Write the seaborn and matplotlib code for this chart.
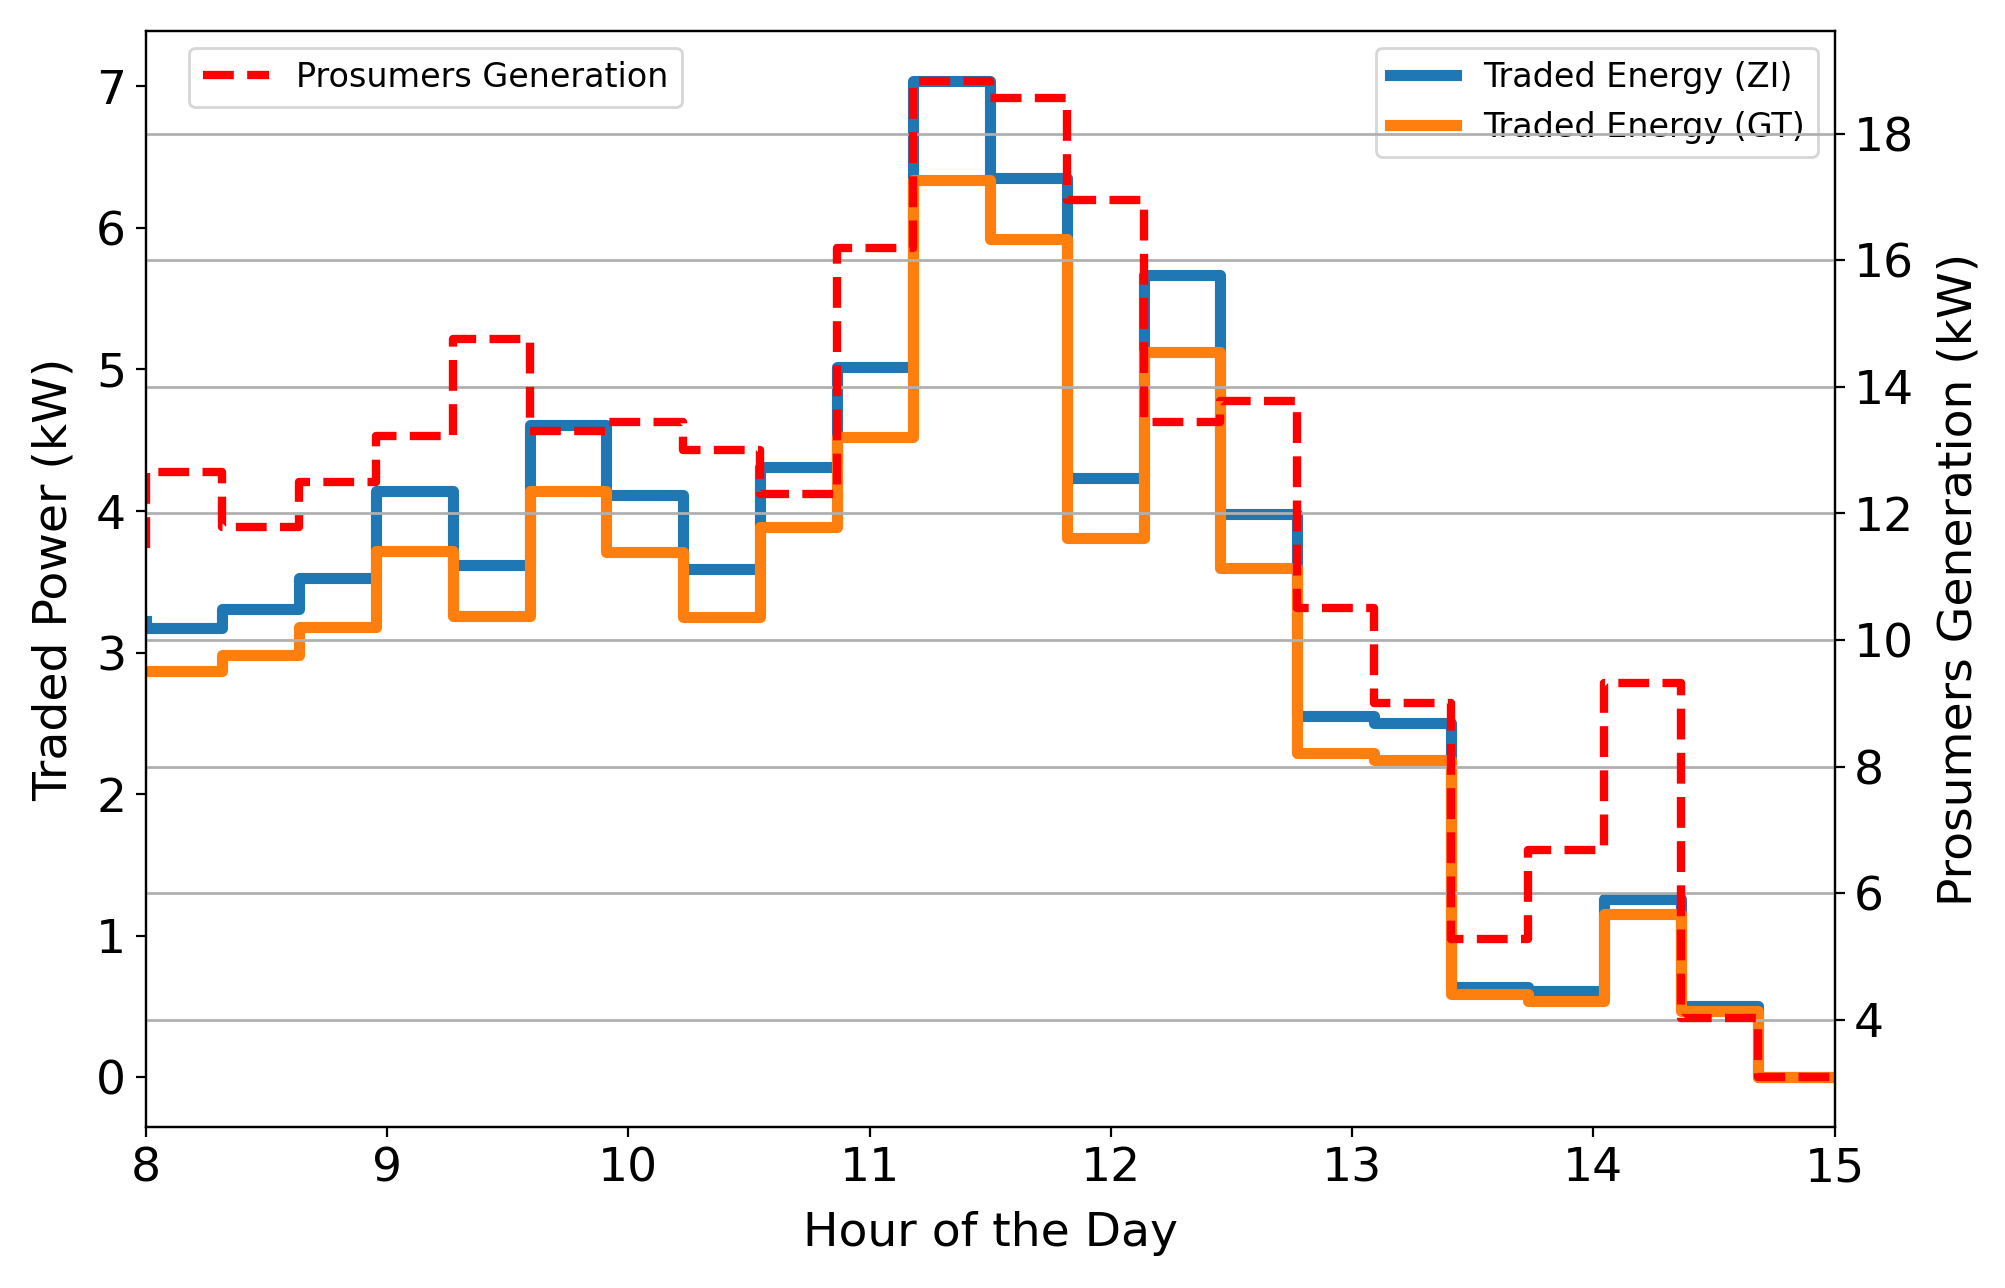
import numpy as np
import pandas as pd
import matplotlib
matplotlib.use("Agg")
import matplotlib.pyplot as plt
import seaborn as sns

hours = np.linspace(8, 15, 23)

traded_zi = [3.22, 3.17, 3.31, 3.53, 4.14, 3.62, 4.61, 4.11, 3.59, 4.31, 5.02,
             7.04, 6.35, 4.23, 5.67, 3.98, 2.55, 2.50, 0.64, 0.61, 1.26, 0.50, 0.00]
traded_gt = [2.87, 2.87, 2.98, 3.18, 3.72, 3.26, 4.14, 3.71, 3.25, 3.89, 4.52,
             6.34, 5.92, 3.81, 5.12, 3.60, 2.29, 2.24, 0.59, 0.54, 1.15, 0.47, 0.00]
prosumers_gen = [11.45, 12.65, 11.78, 12.49, 13.23, 14.75, 13.30, 13.44, 13.00, 12.30, 16.20,
                 18.84, 18.56, 16.96, 13.44, 13.78, 10.51, 9.00, 5.27, 6.68, 9.32, 4.02, 3.09]

df = pd.DataFrame({"hour": hours, "zi": traded_zi, "gt": traded_gt, "gen": prosumers_gen})

fig = plt.figure(figsize=(10.03, 6.44), dpi=200)
ax = fig.add_axes([0.0726, 0.125, 0.842, 0.851])

sns.lineplot(data=df, x="hour", y="zi", ax=ax, color="#1f77b4", linewidth=4,
             drawstyle="steps-pre", label="Traded Energy (ZI)")
sns.lineplot(data=df, x="hour", y="gt", ax=ax, color="#ff7f0e", linewidth=4,
             drawstyle="steps-pre", label="Traded Energy (GT)")
ax.set_xlim(8, 15)
ax.set_xlabel("Hour of the Day", fontsize=17, labelpad=7)
ax.set_ylabel("Traded Power (kW)", fontsize=17, labelpad=7)
ax.tick_params(labelsize=17)
ax.legend(loc="upper right", fontsize=12)

ax2 = ax.twinx()
sns.lineplot(data=df, x="hour", y="gen", ax=ax2, color="red", linewidth=3,
             linestyle="--", drawstyle="steps-pre", label="Prosumers Generation")
ax2.set_xlim(8, 15)
ax2.set_ylabel("Prosumers Generation (kW)", fontsize=17, labelpad=8)
ax2.tick_params(labelsize=17)
ax2.grid(axis="y", color="#b0b0b0", linewidth=1)
ax2.legend(loc="upper left", bbox_to_anchor=(0.016, 1.0), fontsize=12)

fig.savefig("out.png", dpi=200)
